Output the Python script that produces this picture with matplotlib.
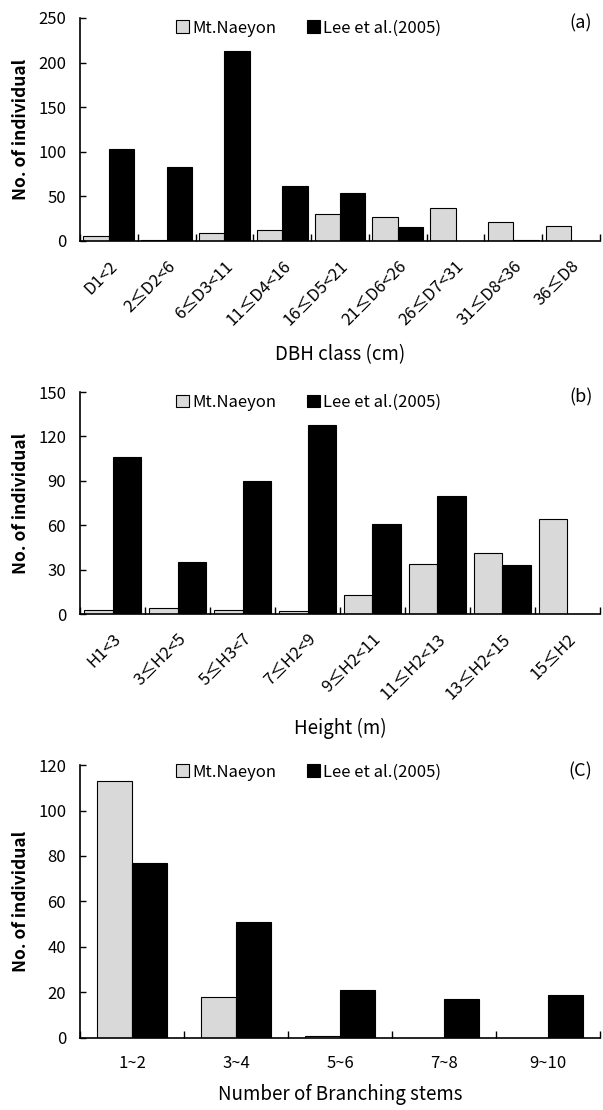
import matplotlib.pyplot as plt
import numpy as np

plt.rcParams['font.family'] = ['Noto Sans CJK KR', 'DejaVu Sans']

dbh_labels = ['D1<2', '2≤D2<6', '6≤D3<11', '11≤D4<16', '16≤D5<21',
              '21≤D6<26', '26≤D7<31', '31≤D8<36', '36≤D8']
dbh_naeyon = [6, 1, 9, 12, 30, 27, 37, 21, 17]
dbh_lee = [103, 83, 213, 62, 54, 16, 0, 1, 0]

height_labels = ['H1<3', '3≤H2<5', '5≤H3<7', '7≤H2<9', '9≤H2<11',
                 '11≤H2<13', '13≤H2<15', '15≤H2']
height_naeyon = [3, 4, 3, 2, 13, 34, 41, 64]
height_lee = [106, 35, 90, 128, 61, 80, 33, 0]

stem_labels = ['1~2', '3~4', '5~6', '7~8', '9~10']
stem_naeyon = [113, 18, 1, 0, 0]
stem_lee = [77, 51, 21, 17, 19]

GRAY = '#d9d9d9'


def draw_panel(ax, labels, naeyon, lee, ymax, ystep, bar_w, tag, xlabel, rotate, xpad):
    n = len(labels)
    x = np.arange(n)
    ax.bar(x - bar_w / 2, naeyon, bar_w, color=GRAY, edgecolor='black',
           linewidth=0.8, label='Mt.Naeyon')
    ax.bar(x + bar_w / 2, lee, bar_w, color='black', edgecolor='black',
           linewidth=0.8, label='Lee et al.(2005)')
    ax.set_xlim(-0.5, n - 0.5)
    ax.set_ylim(0, ymax)
    ax.set_yticks(np.arange(0, ymax + 1, ystep))
    ax.set_xticks(np.arange(-0.5, n, 1.0))
    ax.set_xticklabels([])
    ax.set_xticks(x, minor=True)
    if rotate:
        ax.set_xticklabels(labels, minor=True, rotation=45, ha='right',
                           rotation_mode='anchor', fontsize=12, fontweight='medium')
    else:
        ax.set_xticklabels(labels, minor=True, fontsize=12, fontweight='medium')
    ax.tick_params(axis='x', which='minor', length=0, pad=12)
    ax.tick_params(axis='x', which='major', direction='in', length=5, width=1)
    ax.tick_params(axis='y', direction='in', length=4, width=1, labelsize=12, pad=10)
    for t in ax.get_yticklabels():
        t.set_fontweight('medium')
    for s in ['top', 'right']:
        ax.spines[s].set_visible(False)
    for s in ['left', 'bottom']:
        ax.spines[s].set_linewidth(1.2)
    ax.set_ylabel('No. of individual', fontsize=12.5, fontweight='bold', labelpad=6)
    ax.set_xlabel(xlabel, fontsize=13.5, labelpad=xpad)
    ax.legend(loc='upper center', bbox_to_anchor=(0.44, 1.06), ncol=2,
              frameon=False, handlelength=0.8, handleheight=0.8,
              handletextpad=0.2, columnspacing=1.8,
              prop={'size': 12, 'weight': 'medium'})
    ax.text(0.963, 0.975, tag, transform=ax.transAxes, fontsize=13,
            fontweight='medium', ha='center', va='center')


fig = plt.figure(figsize=(6.03, 11.10), dpi=100)
ax1 = fig.add_axes([0.1327, 0.7829, 0.8623, 0.2009])
ax2 = fig.add_axes([0.1327, 0.4468, 0.8623, 0.2000])
ax3 = fig.add_axes([0.1327, 0.0649, 0.8623, 0.2459])

draw_panel(ax1, dbh_labels, dbh_naeyon, dbh_lee, 250, 50, 0.44, '(a)', 'DBH class (cm)', True, 11)
draw_panel(ax2, height_labels, height_naeyon, height_lee, 150, 30, 0.44, '(b)', 'Height (m)', True, 11)
draw_panel(ax3, stem_labels, stem_naeyon, stem_lee, 120, 20, 0.333, '(C)', 'Number of Branching stems', False, 9)

fig.savefig('out.png', dpi=100)
